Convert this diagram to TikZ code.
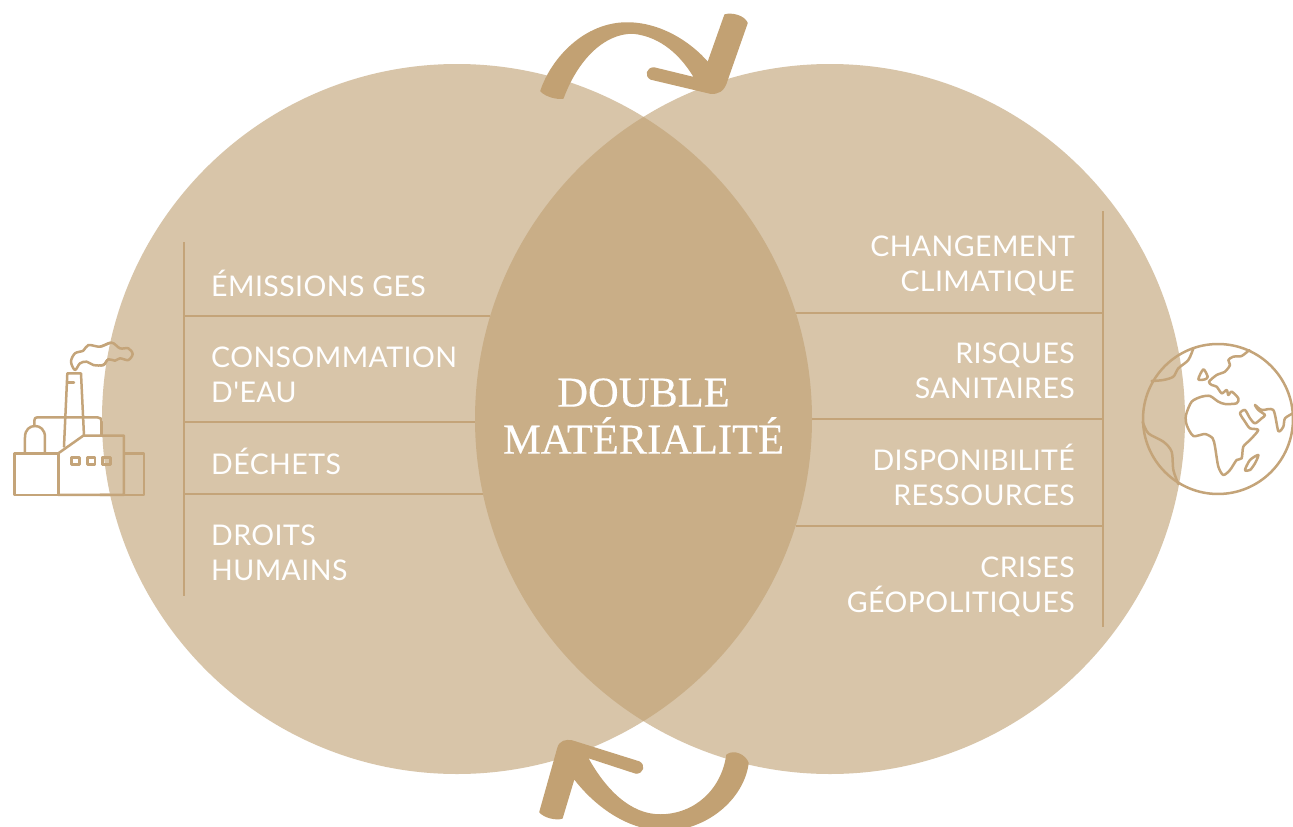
\documentclass[tikz,border=0pt]{standalone}
\usepackage{fontspec}
\newfontfamily\labelfont{Lato}[LetterSpace=1.5]
\newfontfamily\titlefont{Liberation Serif}[FakeBold=0.3]
\definecolor{circ}{HTML}{D8C5A9}
\definecolor{lens}{HTML}{C9AE87}
\definecolor{rule}{HTML}{C4A479}
\definecolor{arrowc}{HTML}{C2A173}
\tikzset{
  lbl/.style={inner sep=0pt,text=white,font=\labelfont\fontsize{28.5}{35}\selectfont},
  lleft/.style={lbl,anchor=west,align=left},
  lright/.style={lbl,anchor=east,align=right},
  rulel/.style={draw=rule,line width=1.3pt},
  icon/.style={draw=rule,line width=2.5pt,line join=round,line cap=round},
  bigarrow/.style={fill=arrowc,draw=arrowc,line width=1.5pt,line join=round}
}
\begin{document}
\begin{tikzpicture}[x=1pt,y=-1pt]
\useasboundingbox[fill=white] (0,0) rectangle (1293,827);
% factory under the circle edge
\begin{scope}[shift={(0,330)},x=0.3333pt,y=-0.3333pt,icon]
\draw (43,370) rectangle (175,495);
\draw (175,370) -- (250,317) -- (372,317) -- (372,495) -- (175,495);
\draw (372,370) rectangle (432,495);
\draw (215,382) rectangle (238,403);
\draw (262,382) rectangle (285,403);
\draw (308,382) rectangle (331,403);
\draw (192,350) -- (202,130) -- (243,130) -- (252,317);
\draw (205,158) -- (222,158);
\draw (103,288) -- (103,272) .. controls (103,265) and (106,262) .. (112,262) -- (292,262) .. controls (301,262) and (305,266) .. (305,275) -- (305,317);
\draw (75,370) -- (75,322) .. controls (75,298) and (90,288) .. (105,288) .. controls (120,288) and (135,298) .. (135,322) -- (135,370);
\draw plot[smooth cycle,tension=.55] coordinates {(225,120) (213,95) (225,70) (250,62) (265,45) (300,50) (335,38) (360,55) (385,55) (398,72) (385,90) (360,85) (345,92) (325,88) (310,105) (280,105) (260,95) (240,100)};
\end{scope}
% circles
\fill[circ] (457,419) circle[radius=355];
\fill[circ] (830,419) circle[radius=355];
\begin{scope}
\clip (457,419) circle[radius=355];
\fill[lens] (830,419) circle[radius=355];
\end{scope}
% factory parts over the circle
\begin{scope}[shift={(0,330)},x=0.3333pt,y=-0.3333pt,icon]
\begin{scope}
\clip (300,0) rectangle (480,540);
\draw (175,370) -- (250,317) -- (372,317) -- (372,495) -- (175,495);
\draw (372,370) rectangle (432,495);
\draw (308,382) rectangle (331,403);
\draw (305,275) -- (305,317);
\draw plot[smooth cycle,tension=.55] coordinates {(225,120) (213,95) (225,70) (250,62) (265,45) (300,50) (335,38) (360,55) (385,55) (398,72) (385,90) (360,85) (345,92) (325,88) (310,105) (280,105) (260,95) (240,100)};
\end{scope}
\end{scope}
% globe
\begin{scope}[shift={(1130,330)},x=0.3333pt,y=-0.3333pt,icon]
\draw (264,267) circle[radius=225];
\draw plot[smooth,tension=.45] coordinates {(489,250) (465,265) (460,290) (445,303) (430,240) (395,240) (375,225) (385,240) (405,255) (395,265) (375,280) (360,265) (345,240) (330,250) (345,275) (360,295) (385,300) (360,330) (340,350) (335,385) (320,390) (300,420) (280,435) (265,410) (255,350) (248,325) (225,312) (190,318) (170,285) (168,255) (185,215) (215,200) (240,198) (265,215) (285,222) (320,220) (325,205) (305,185) (295,195) (290,180) (275,190) (260,170) (245,165) (237,155) (260,135) (285,125) (300,105) (295,90) (310,80) (335,78) (358,60)};
\draw plot[smooth cycle,tension=.45] coordinates {(345,420) (360,390) (385,375) (375,400) (360,420)};
\draw plot[smooth cycle,tension=.45] coordinates {(205,148) (220,118) (233,140) (225,148)};
\draw plot[smooth,tension=.5] coordinates {(190,55) (175,90) (145,115) (130,140) (100,150) (65,153)};
\draw plot[smooth,tension=.5] coordinates {(38,275) (55,310) (100,335) (125,365) (130,420) (145,462)};
\end{scope}
% rules
\draw[rulel] (184,242) -- (184,596);
\draw[rulel] (184,316) -- (490,316);
\draw[rulel] (184,422) -- (475,422);
\draw[rulel] (184,494) -- (483,494);
\draw[rulel] (1103,211) -- (1103,627);
\draw[rulel] (796,313) -- (1103,313);
\draw[rulel] (812,419) -- (1103,419);
\draw[rulel] (796,526) -- (1103,526);
% labels
\node[lleft] (l1) at (211,283) {ÉMISSIONS GES};
\node[lleft] (l2) at (211,375) {CONSOMMATION\\D'EAU};
\node[lleft] (l3) at (211,461.5) {DÉCHETS};
\node[lleft] (l4) at (211,553) {DROITS\\HUMAINS};
\node[lright] (r1) at (1075,266) {CHANGEMENT\\CLIMATIQUE};
\node[lright] (r2) at (1075,371) {RISQUES\\SANITAIRES};
\node[lright] (r3) at (1075,475) {DISPONIBILITÉ\\RESSOURCES};
\node[lright] (r4) at (1075,586.5) {CRISES\\GÉOPOLITIQUES};
\node[inner sep=0pt,text=white,align=center,font=\titlefont\fontsize{42.5}{47}\selectfont] (title) at (643.5,416) {DOUBLE\\MATÉRIALITÉ};
% arrows
\path[bigarrow] (541,91) .. controls (552,58) and (585,23) .. (627,23) .. controls (660,23) and (690,42) .. (708,63)
  -- (725,15) .. controls (732,13) and (744,16) .. (747,23)
  -- (727,80) .. controls (724,91) and (718,94) .. (710,93)
  -- (651,79) .. controls (645,76) and (647,68) .. (654,68)
  -- (695,78) .. controls (682,56) and (662,36) .. (633,33) .. controls (600,33) and (575,65) .. (563,98)
  .. controls (556,99) and (546,96) .. (541,91) -- cycle;
\path[bigarrow] (748,763) .. controls (743,800) and (705,830) .. (665,830) .. controls (630,830) and (597,808) .. (574,778)
  -- (562,818) .. controls (556,820) and (544,817) .. (540,812)
  -- (558,748) .. controls (560,741) and (566,740) .. (572,741)
  -- (639,762) .. controls (645,765) and (643,773) .. (636,773)
  -- (587,757) .. controls (605,790) and (630,815) .. (660,815) .. controls (695,815) and (722,790) .. (727,755)
  .. controls (734,750) and (745,755) .. (748,763) -- cycle;
\end{tikzpicture}
\end{document}
